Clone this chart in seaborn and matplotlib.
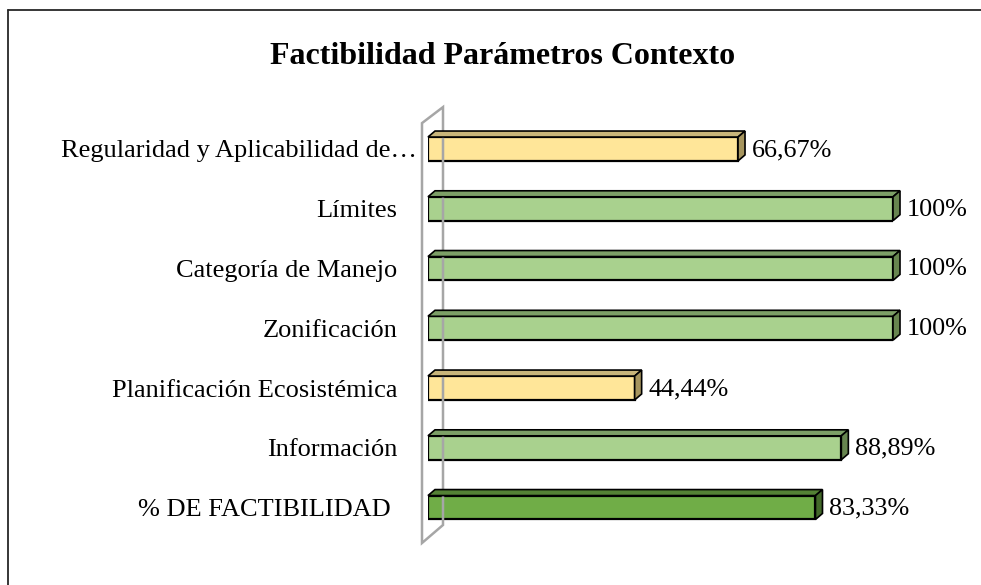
import numpy as np
import pandas as pd
import matplotlib
matplotlib.use("Agg")
import matplotlib.pyplot as plt
import seaborn as sns
from matplotlib.patches import Polygon
from matplotlib.lines import Line2D
from matplotlib.transforms import IdentityTransform, ScaledTranslation

categories = [
    "Regularidad y Aplicabilidad de\u2026",
    "L\u00edmites",
    "Categor\u00eda de Manejo",
    "Zonificaci\u00f3n",
    "Planificaci\u00f3n Ecosist\u00e9mica",
    "Informaci\u00f3n",
    "% DE FACTIBILIDAD ",
]
values = [66.67, 100, 100, 100, 44.44, 88.89, 83.33]

# front / top / side colours per bar
front = ["#FFE699", "#A9D18E", "#A9D18E", "#A9D18E", "#FFE699", "#A9D18E", "#70AD47"]
top = ["#C8B57A", "#7C9F66", "#7C9F66", "#7C9F66", "#C8B57A", "#7C9F66", "#548235"]
side = ["#A6955E", "#67854F", "#67854F", "#67854F", "#A6955E", "#67854F", "#43692A"]

df = pd.DataFrame({"categoria": categories, "valor": values})

sns.set_theme(style="white")
plt.rcParams["font.family"] = ["Liberation Serif", "DejaVu Serif"]
plt.rcParams["text.color"] = "black"
plt.rcParams["ytick.color"] = "black"

fig = plt.figure(figsize=(9.81, 5.85), dpi=100)
ax = fig.add_axes([428 / 981, 1 - 537.4 / 585, 465 / 981, 418.3 / 585])

sns.barplot(data=df, x="valor", y="categoria", hue="categoria", palette=front,
            saturation=1, orient="h", width=0.4, edgecolor="black", linewidth=1.6,
            legend=False, ax=ax, zorder=3)

ax.set_xlim(0, 100)
ax.set_ylim(6.5, -0.5)
ax.set_xlabel("")
ax.set_ylabel("")
ax.set_xticks([])
for s in ax.spines.values():
    s.set_visible(False)
ax.tick_params(axis="y", length=0, pad=22, labelsize=19, labelcolor="black")
ax.patch.set_alpha(0)

# the truncated first label sits closer to the wall
lbl0 = ax.get_yticklabels()[0]
lbl0.set_transform(lbl0.get_transform() + ScaledTranslation(0.19, 0, fig.dpi_scale_trans))

fig.canvas.draw()
dx, dy = 7, 6
ident = IdentityTransform()

# wall on the left
bb = ax.get_window_extent()
wall = [(bb.x0 - 6, bb.y0 - 5.6), (bb.x0 - 6, bb.y1 - 4),
        (bb.x0 + 15, bb.y1 + 12), (bb.x0 + 15, bb.y0 + 12.4)]
fig.add_artist(Polygon(wall, closed=True, fill=False, edgecolor="#A6A6A6",
                       lw=1.8, transform=ident, zorder=1))

# 3D faces + labels
for i, p in enumerate(ax.patches[:len(values)]):
    (x0, ya), (x1, yb) = ax.transData.transform(
        [(p.get_x(), p.get_y()), (p.get_x() + p.get_width(), p.get_y() + p.get_height())])
    yt, ybot = max(ya, yb), min(ya, yb)
    topface = [(x0, yt), (x1, yt), (x1 + dx, yt + dy), (x0 + dx, yt + dy)]
    sideface = [(x1, ybot), (x1, yt), (x1 + dx, yt + dy), (x1 + dx, ybot + dy)]
    fig.add_artist(Polygon(topface, closed=True, facecolor=top[i], edgecolor="black",
                           lw=1.2, transform=ident, zorder=4))
    fig.add_artist(Polygon(sideface, closed=True, facecolor=side[i], edgecolor="black",
                           lw=1.2, transform=ident, zorder=4))
    v = values[i]
    lab = "100%" if v == 100 else f"{v:.2f}".replace(".", ",") + "%"
    ax.annotate(lab, xy=(v, p.get_y() + p.get_height() / 2), xytext=(14, -1),
                textcoords="offset pixels", ha="left", va="center",
                fontsize=18.8, color="black", annotation_clip=False)

fig.text(503 / 981, 1 - 56 / 585, "Factibilidad Par\u00e1metros Contexto",
         ha="center", va="center", fontsize=23, fontweight="bold", color="black")

# chart border (top and left visible)
fig.add_artist(Line2D([8 / 981, 8 / 981], [0, 1 - 10 / 585], transform=fig.transFigure,
                      color="#262626", lw=1.3))
fig.add_artist(Line2D([8 / 981, 1], [1 - 10 / 585, 1 - 10 / 585], transform=fig.transFigure,
                      color="#262626", lw=1.3))

fig.savefig("out.png", dpi=100)
